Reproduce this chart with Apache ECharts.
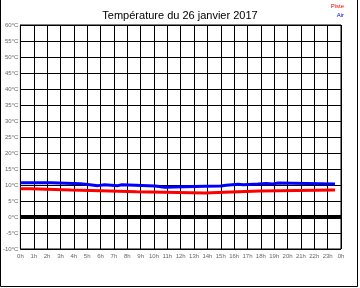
<!DOCTYPE html>
<html><head><meta charset="utf-8">
<script src="https://cdn.jsdelivr.net/npm/echarts@6/dist/echarts.min.js"></script>
<style>html,body{margin:0;padding:0;background:#fff}#c{width:360px;height:288px}</style>
</head><body><div id="c"></div>
<script>
var title = 'Température du 26 janvier 2017';
var hourTicks = [0,1,2,3,4,5,6,7,8,9,10,11,12,13,14,15,16,17,18,19,20,21,22,23,24];
var yTicks = [-10,-5,0,5,10,15,20,25,30,35,40,45,50,55,60];
var airHours = [0,2.3,4.5,5.2,5.8,6.3,7.3,7.6,10.1,10.8,13.8,15.0,15.4,16.3,16.7,17.8,18.4,18.9,19.3,23.55];
var airTemps = [10.7,10.4,10.1,9.8,10.1,9.8,10.1,9.7,9.3,9.6,9.7,9.9,10.2,10.1,10.3,10.5,10.3,10.6,10.3,10.3];
var pisteHours = [0,0.75,3.8,6.7,8.7,13.8,15.8,17.9,23.55];
var pisteTemps = [8.8,8.4,8.1,7.9,7.5,7.8,8.1,8.4,8.4];

function pairs(xs, ys){ return xs.map(function(x,i){return [x, ys[i]];}); }
var F = 'Liberation Sans, Arial, sans-serif';
var chart = echarts.init(document.getElementById('c'), null, {renderer:'canvas'});
chart.setOption({
  animation:false,
  backgroundColor:'#fff',
  title:{text:title, left:'center', top:5, textStyle:{fontFamily:F, fontSize:11, fontWeight:'normal', color:'#000'}},
  graphic:[
    {type:'text', right:16, top:3, style:{text:'Piste', fill:'#ff0000', font:'6px '+F, textAlign:'right'}},
    {type:'text', right:16, top:12, style:{text:'Air', fill:'#0000ff', font:'6px '+F, textAlign:'right'}},
    {type:'polyline', shape:{points:[[0.5,0],[0.5,286.5],[357.5,286.5],[357.5,0]]}, style:{stroke:'#000', lineWidth:1, fill:null}}
  ],
  grid:{left:17, right:19, top:25, bottom:39, show:true, borderColor:'#000', borderWidth:1},
  xAxis:{type:'value', min:hourTicks[0], max:hourTicks[hourTicks.length-1], interval:1,
    axisLine:{show:true, lineStyle:{color:'#000', width:1}}, axisTick:{show:false},
    splitLine:{show:true, lineStyle:{color:'#000', width:1}},
    axisLabel:{fontFamily:F, fontSize:6, color:'#666', margin:4, showMinLabel:true, showMaxLabel:true,
      formatter:function(v){return (v%24)+'h';}}},
  yAxis:{type:'value', min:yTicks[0], max:yTicks[yTicks.length-1], interval:5,
    axisLine:{show:true, lineStyle:{color:'#000', width:1}}, axisTick:{show:false},
    splitLine:{show:true, lineStyle:{color:'#000', width:1}},
    axisLabel:{fontFamily:F, fontSize:6, color:'#666', margin:2, formatter:function(v){return v+'°C';}}},
  series:[
    {name:'Piste', type:'line', step:'end', symbol:'none', data:pairs(pisteHours, pisteTemps),
      lineStyle:{color:'#ff0000', width:3},
      markLine:{silent:true, symbol:'none', label:{show:false}, lineStyle:{color:'#000', width:4, type:'solid'}, data:[{yAxis:0}]}},
    {name:'Air', type:'line', step:'end', symbol:'none', data:pairs(airHours, airTemps),
      lineStyle:{color:'#0000ff', width:3}}
  ]
});
</script></body></html>
